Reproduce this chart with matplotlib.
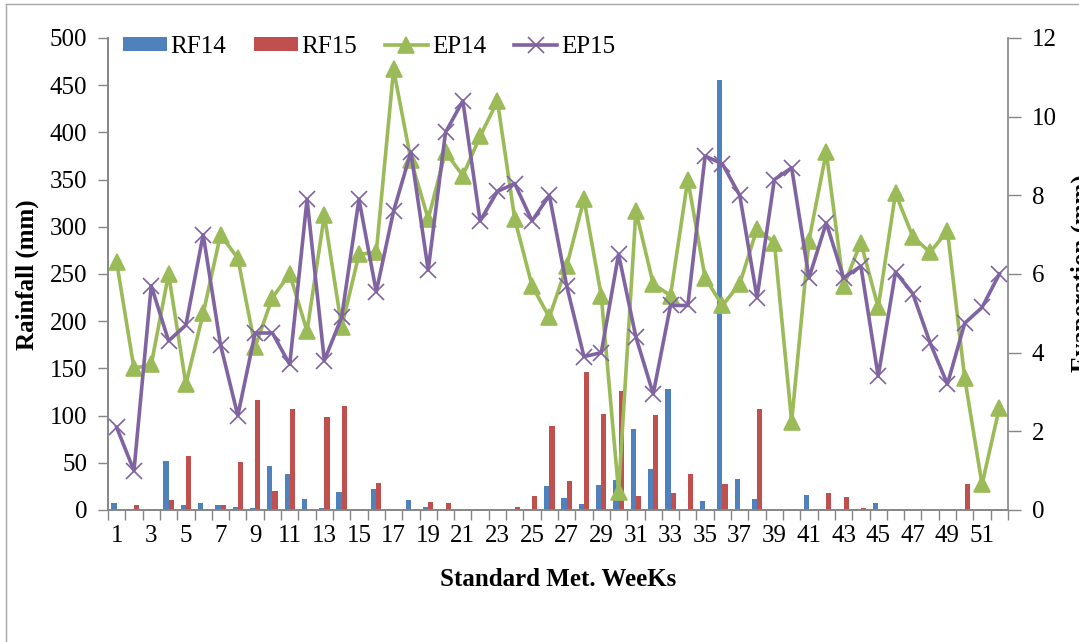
import matplotlib
matplotlib.use("Agg")
import matplotlib.pyplot as plt
from matplotlib.lines import Line2D
import numpy as np

plt.rcParams['font.family'] = ['Liberation Serif', 'DejaVu Serif']

weeks = list(range(1, 53))

rf14 = [7, 1, 0, 52, 5, 7, 5, 3.5, 2.5, 47, 38, 12, 2, 19, 0, 22, 0, 11, 3.5, 0,
        0, 0, 0, 0, 0, 25, 13, 6.5, 26, 32, 86, 43, 128, 0, 10, 455, 33, 12, 0, 0,
        16, 1, 0, 0, 7.5, 0, 0, 0, 0, 0, 0, 0]
rf15 = [0, 5, 0, 11, 57, 0, 5, 51, 116, 20, 107, 0, 99, 110, 0, 29, 0, 0, 8, 7,
        0, 1, 0, 3.5, 15, 89, 31, 146, 102, 126, 15, 101, 18, 38, 0, 28, 0, 107, 0, 0,
        0, 18, 14, 2, 0, 0, 0, 0, 0, 28, 0, 0]
ep14 = [6.3, 3.6, 3.7, 6.0, 3.2, 5.0, 7.0, 6.4, 4.15, 5.4, 6.0, 4.55, 7.5, 4.65, 6.5,
        6.55, 11.2, 8.9, 7.4, 9.1, 8.5, 9.5, 10.4, 7.4, 5.7, 4.9, 6.2, 7.9, 5.45, 0.47,
        7.6, 5.75, 5.45, 8.4, 5.9, 5.2, 5.75, 7.15, 6.8, 2.25, 6.85, 9.1, 5.7, 6.8, 5.15,
        8.05, 6.95, 6.55, 7.1, 3.35, 0.65, 2.6]
ep15 = [2.1, 1.0, 5.7, 4.3, 4.7, 7.0, 4.2, 2.4, 4.5, 4.5, 3.7, 7.9, 3.8, 4.9, 7.9,
        5.55, 7.6, 9.1, 6.1, 9.6, 10.4, 7.35, 8.1, 8.3, 7.35, 8.0, 5.7, 3.9, 4.0, 6.5,
        4.4, 2.95, 5.2, 5.2, 9.0, 8.8, 8.0, 5.4, 8.4, 8.7, 5.9, 7.3, 5.9, 6.2, 3.4,
        6.05, 5.5, 4.25, 3.2, 4.75, 5.15, 6.0]

blue = '#4F81BD'
red = '#C0504D'
green = '#9BBB59'
purple = '#8064A2'
grey = '#868686'

fig = plt.figure(figsize=(10.79, 6.42), dpi=100)
fig.subplots_adjust(left=108/1079, right=1008/1079, top=1-38/642, bottom=1-510/642)
ax = fig.add_subplot(111)

x = np.array(weeks)
w = 0.3
ax.bar(x - w/2, rf14, w, color=blue, label='RF14')
ax.bar(x + w/2, rf15, w, color=red, label='RF15')
ax.set_xlim(0.5, 52.5)
ax.set_ylim(0, 500)
ax.set_yticks(range(0, 501, 50))

ax2 = ax.twinx()
ax2.plot(x, ep14, color=green, lw=2.6, marker='^', ms=11, mew=1.2, label='EP14')
ax2.plot(x, ep15, color=purple, lw=2.6, marker='x', ms=11, mew=1.2, label='EP15')
ax2.set_ylim(0, 12)
ax2.set_yticks(range(0, 13, 2))

# category boundaries as ticks, labels on odd weeks
ax.set_xticks(np.arange(0.5, 53, 1))
ax.set_xticklabels([])
ax.set_xticks(weeks[::2], minor=True)
ax.set_xticklabels([str(k) for k in weeks[::2]], minor=True)
ax.tick_params(axis='x', which='major', length=7, width=1, color=grey, direction='out')
ax.tick_params(axis='x', which='minor', length=0, pad=11, labelsize=18)
ax.tick_params(axis='y', length=7, width=1, color=grey, labelsize=18, pad=8)
ax2.tick_params(axis='y', length=9, width=1, color=grey, labelsize=18, pad=8)

for a in (ax, ax2):
    a.spines['top'].set_visible(False)
    for s in ('left', 'right', 'bottom'):
        a.spines[s].set_color(grey)
        a.spines[s].set_linewidth(1.2)
ax.spines['right'].set_visible(False)

fig.text(27/1079, 1-275/642, 'Rainfall (mm)', rotation=90, ha='center', va='center',
         fontsize=18, fontweight='bold')
fig.text(1082/1079, 1-273/642, 'Evaporation (mm)', rotation=90, ha='center', va='center',
         fontsize=18, fontweight='bold')
fig.text(558/1079, 1-579/642, 'Standard Met. WeeKs', ha='center', va='center',
         fontsize=18, fontweight='bold')

h1, l1 = ax.get_legend_handles_labels()
h2, l2 = ax2.get_legend_handles_labels()
ax2.legend(h1 + h2, l1 + l2, loc='upper left', bbox_to_anchor=(123/1079, 1-36/642),
           bbox_transform=fig.transFigure, ncol=4, frameon=False, fontsize=18,
           borderpad=0, borderaxespad=0, handlelength=1.75, handleheight=0.5,
           handletextpad=0.15, columnspacing=1.1)

# outer chart border
fig.add_artist(Line2D([5.5/1079, 1], [1-4/642, 1-4/642], color='#A6A6A6', lw=1,
                      transform=fig.transFigure))
fig.add_artist(Line2D([5.5/1079, 5.5/1079], [0, 1-4/642], color='#A6A6A6', lw=1,
                      transform=fig.transFigure))

fig.savefig('out.png', dpi=100)
